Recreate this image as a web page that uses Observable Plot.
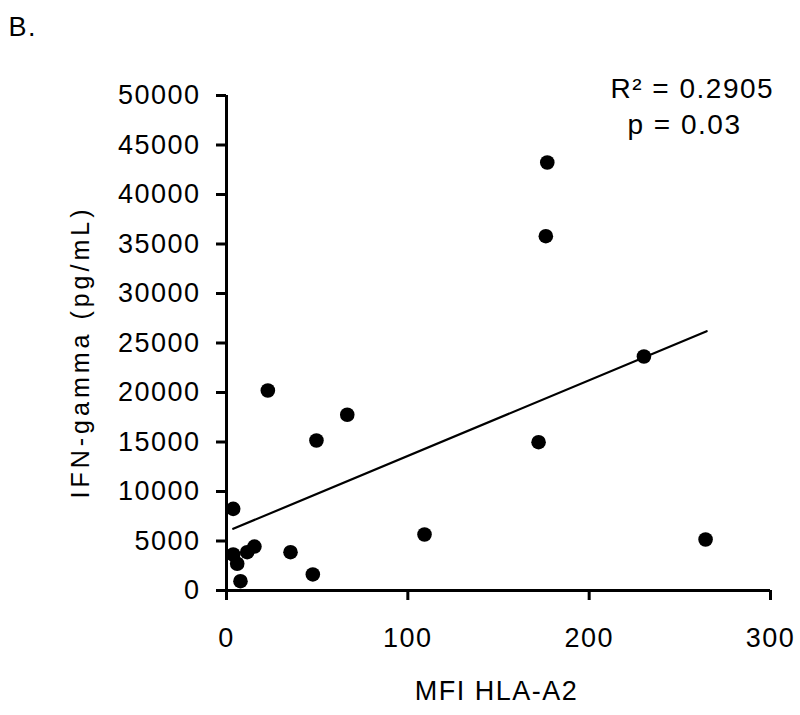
<!DOCTYPE html>
<html>
<head>
<meta charset="utf-8">
<script src="https://cdn.jsdelivr.net/npm/d3@7"></script>
<script src="https://cdn.jsdelivr.net/npm/@observablehq/plot@0.6"></script>
<style>
  html, body { margin: 0; padding: 0; background: #fff; }
</style>
</head>
<body>
<div id="chart"></div>
<script>
// MFI HLA-A2 (x) and IFN-gamma pg/mL (y) for each sample
const mfi = [22.8, 66.6, 49.6, 3.7, 3.7, 5.9, 7.7, 11.4, 15.4, 35.3, 47.6, 109.2, 176.9, 176.1, 230.2, 172.1, 264.2];
const ifn = [20200, 17750, 15150, 8250, 3640, 2700, 940, 3870, 4440, 3870, 1620, 5660, 43230, 35790, 23640, 14980, 5150];

// fitted regression line, as drawn
const fitX = [3.7, 264.8];
const fitY = [6230, 26190];

const xTicks = [0, 100, 200, 300];
const yTicks = [0, 5000, 10000, 15000, 20000, 25000, 30000, 35000, 40000, 45000, 50000];

const panelLabel = "B.";
const xTitle = "MFI HLA-A2";
const yTitle = "IFN-gamma (pg/mL)";
const statR2 = "R\u00B2 = 0.2905";
const statP = "p = 0.03";

const points = mfi.map((x, i) => ({x, y: ifn[i]}));
const fit = fitX.map((x, i) => ({x, y: fitY[i]}));

const svg = Plot.plot({
  width: 800,
  height: 715,
  marginLeft: 226,
  marginRight: 30,
  marginTop: 95,
  marginBottom: 125,
  x: {domain: [0, 300]},
  y: {domain: [0, 50000]},
  style: {
    fontFamily: "'Liberation Sans', Arial, sans-serif",
    fontSize: "27px",
    color: "#000",
    background: "#fff",
    overflow: "visible",
    letterSpacing: "1.5px"
  },
  marks: [
    Plot.axisX({ticks: xTicks, tickSize: 10, tickPadding: 27, tickFormat: d3.format("d"), strokeWidth: 3, label: null}),
    Plot.axisY({ticks: yTicks, tickSize: 10, tickPadding: 16, tickFormat: d3.format("d"), strokeWidth: 3, label: null}),
    Plot.ruleY([0], {strokeWidth: 3}),
    Plot.ruleX([0], {strokeWidth: 3}),
    Plot.line(fit, {x: "x", y: "y", stroke: "#000", strokeWidth: 2.2}),
    Plot.dot(points, {x: "x", y: "y", r: 7.3, fill: "#000", stroke: "none"}),
    Plot.text([statR2], {frameAnchor: "top-right", textAnchor: "start", lineAnchor: "bottom", dx: -160, dy: 2, fontSize: 28}),
    Plot.text([statP], {frameAnchor: "top-right", textAnchor: "start", lineAnchor: "bottom", dx: -143, dy: 38, fontSize: 28}),
    Plot.text([panelLabel], {frameAnchor: "top-left", textAnchor: "start", lineAnchor: "bottom", dx: -218, dy: -60, fontSize: 27}),
    Plot.text([xTitle], {frameAnchor: "bottom", textAnchor: "middle", lineAnchor: "bottom", dx: -2, dy: 109, fontSize: 27}),
    Plot.text([yTitle], {frameAnchor: "left", textAnchor: "middle", lineAnchor: "bottom", rotate: -90, dx: -138, dy: 9, fontSize: 25})
  ]
});

d3.select(svg).selectAll("text")
  .filter(function() { return this.textContent === yTitle; })
  .style("letter-spacing", "4px");

document.getElementById("chart").appendChild(svg);
</script>
</body>
</html>
